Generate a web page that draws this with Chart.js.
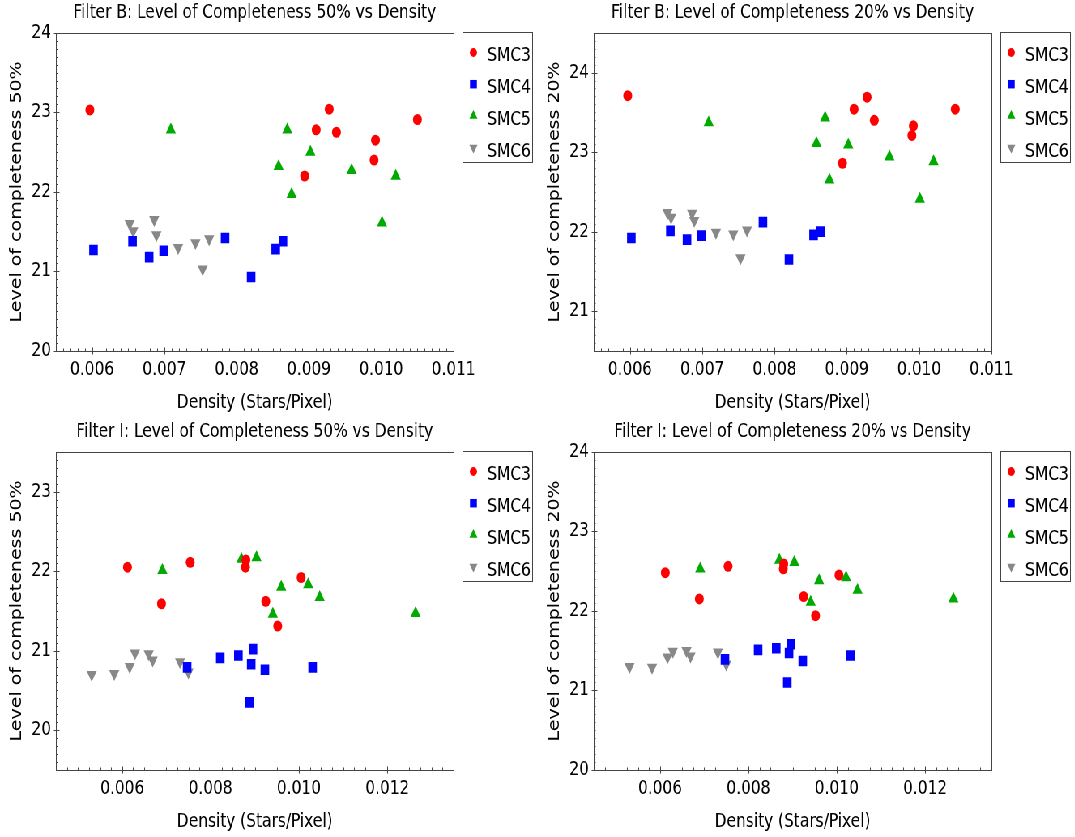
<!DOCTYPE html>
<html>
<head>
<meta charset="utf-8">
<script src="https://cdn.jsdelivr.net/npm/chart.js@4.4.1/dist/chart.umd.min.js"></script>
<style>
html, body { margin: 0; padding: 0; background: #fff; overflow: hidden; }
#wrap { position: absolute; left: 0; top: 0; width: 1328px; height: 837px;
        transform: scaleX(0.81); transform-origin: 0 0; }
.panel { position: absolute; }
</style>
</head>
<body>
<div id="wrap">
  <canvas class="panel" id="c1" width="664" height="418" style="left:0;top:0"></canvas>
  <canvas class="panel" id="c2" width="664" height="418" style="left:664px;top:0"></canvas>
  <canvas class="panel" id="c3" width="664" height="418" style="left:0;top:419px"></canvas>
  <canvas class="panel" id="c4" width="664" height="418" style="left:664px;top:419px"></canvas>
</div>
<script>
// series names
const seriesNames = ['SMC3', 'SMC4', 'SMC5', 'SMC6']

// Filter B densities (stars/pixel)
const densB_SMC3 = [0.00597, 0.00928, 0.00910, 0.00938, 0.01050, 0.00992, 0.00990, 0.00894]
const densB_SMC4 = [0.00602, 0.00656, 0.00679, 0.00699, 0.00784, 0.00820, 0.00854, 0.00864]
const densB_SMC5 = [0.00709, 0.00870, 0.00858, 0.00902, 0.00876, 0.00959, 0.01020, 0.01001]
const densB_SMC6 = [0.00652, 0.00657, 0.00686, 0.00689, 0.00719, 0.00743, 0.00762, 0.00753]

// Filter B, completeness 50%
const B50_SMC3 = [23.03, 23.04, 22.78, 22.75, 22.91, 22.65, 22.40, 22.20]
const B50_SMC4 = [21.27, 21.38, 21.18, 21.26, 21.42, 20.93, 21.28, 21.38]
const B50_SMC5 = [22.78, 22.78, 22.32, 22.50, 21.97, 22.27, 22.20, 21.61]
const B50_SMC6 = [21.60, 21.51, 21.65, 21.46, 21.30, 21.36, 21.41, 21.03]

// Filter B, completeness 20%
const B20_SMC3 = [23.71, 23.69, 23.54, 23.40, 23.54, 23.33, 23.21, 22.86]
const B20_SMC4 = [21.92, 22.01, 21.90, 21.95, 22.12, 21.65, 21.96, 22.00]
const B20_SMC5 = [23.37, 23.43, 23.11, 23.09, 22.65, 22.94, 22.88, 22.41]
const B20_SMC6 = [22.24, 22.18, 22.23, 22.14, 21.99, 21.97, 22.02, 21.67]

// Filter I densities
const densI_SMC3 = [0.00612, 0.00754, 0.00689, 0.00880, 0.00879, 0.01005, 0.00925, 0.00952]
const densI_SMC4 = [0.00747, 0.00822, 0.00863, 0.00896, 0.00892, 0.00923, 0.01031, 0.00888]
const densI_SMC5 = [0.00691, 0.00870, 0.00904, 0.00960, 0.01021, 0.01047, 0.00941, 0.01264]
const densI_SMC6 = [0.00531, 0.00582, 0.00617, 0.00629, 0.00660, 0.00669, 0.00731, 0.00750]

// Filter I, completeness 50%
const I50_SMC3 = [22.05, 22.11, 21.59, 22.14, 22.05, 21.92, 21.62, 21.31]
const I50_SMC4 = [20.79, 20.91, 20.94, 21.02, 20.83, 20.76, 20.79, 20.35]
const I50_SMC5 = [22.01, 22.15, 22.17, 21.80, 21.83, 21.67, 21.46, 21.47]
const I50_SMC6 = [20.70, 20.71, 20.80, 20.97, 20.96, 20.88, 20.86, 20.73]

// Filter I, completeness 20%
const I20_SMC3 = [22.48, 22.56, 22.15, 22.59, 22.53, 22.45, 22.18, 21.94]
const I20_SMC4 = [21.39, 21.51, 21.53, 21.58, 21.47, 21.37, 21.44, 21.10]
const I20_SMC5 = [22.53, 22.64, 22.61, 22.38, 22.42, 22.26, 22.11, 22.15]
const I20_SMC6 = [21.30, 21.29, 21.42, 21.49, 21.50, 21.43, 21.48, 21.33]

// tick labels
const xTicksB = [0.006, 0.007, 0.008, 0.009, 0.010, 0.011]
const xTicksI = [0.006, 0.008, 0.010, 0.012]
const yTicks1 = [20, 21, 22, 23, 24]
const yTicks2 = [21, 22, 23, 24]
const yTicks3 = [20, 21, 22, 23]
const yTicks4 = [20, 21, 22, 23, 24]

Chart.defaults.font.family = 'DejaVu Sans'
Chart.defaults.font.size = 19
Chart.defaults.color = '#000'

const styles = [
    { color: '#ff0000', pointStyle: 'circle', radius: 5.5, rotation: 0 },
    { color: '#0000ff', pointStyle: 'rect', radius: 7.5, rotation: 0 },
    { color: '#00aa00', pointStyle: 'triangle', radius: 7.3, rotation: 0 },
    { color: '#888888', pointStyle: 'triangle', radius: 7.3, rotation: 180 },
]

function makeSets(xs, ys) {
    return seriesNames.map(function (name, i) {
        return {
            label: name,
            data: xs[i].map(function (v, j) { return { x: v, y: ys[i][j] } }),
            pointStyle: styles[i].pointStyle,
            pointRotation: styles[i].rotation,
            pointRadius: styles[i].radius,
            pointHoverRadius: styles[i].radius,
            backgroundColor: styles[i].color,
            borderColor: styles[i].color,
            borderWidth: 0,
        }
    })
}

function drawMarker(ctx, st, x, y, r) {
    ctx.beginPath()
    if (st.pointStyle === 'circle') {
        ctx.arc(x, y, r, 0, Math.PI * 2)
    } else if (st.pointStyle === 'rect') {
        const s = r * Math.SQRT1_2
        ctx.rect(x - s, y - s, 2 * s, 2 * s)
    } else {
        const d = st.rotation ? -1 : 1
        ctx.moveTo(x, y - d * r)
        ctx.lineTo(x + r * 0.866, y + d * r / 2)
        ctx.lineTo(x - r * 0.866, y + d * r / 2)
        ctx.closePath()
    }
    ctx.fillStyle = st.color
    ctx.fill()
}

// frame, inward ticks and boxed legend
const decor = {
    id: 'decor',
    afterDraw(chart, args, opts) {
        const ctx = chart.ctx
        const a = chart.chartArea
        const x = chart.scales.x, y = chart.scales.y
        const L = Math.round(a.left) + 0.5, R = Math.round(a.right) + 0.5
        const T = Math.round(a.top) + 0.5, B = Math.round(a.bottom) + 0.5
        ctx.save()
        ctx.strokeStyle = '#444'
        ctx.lineWidth = 1
        ctx.beginPath()
        // minor ticks
        for (let n = Math.ceil(x.min / opts.xMinor - 1e-6); n * opts.xMinor <= x.max + 1e-9; n++) {
            const px = Math.round(x.getPixelForValue(n * opts.xMinor)) + 0.5
            ctx.moveTo(px, B); ctx.lineTo(px, B - 3)
        }
        for (let n = Math.ceil(y.min / opts.yMinor - 1e-6); n * opts.yMinor <= y.max + 1e-9; n++) {
            const py = Math.round(y.getPixelForValue(n * opts.yMinor)) + 0.5
            ctx.moveTo(L, py); ctx.lineTo(L + 2, py)
        }
        // major ticks
        x.ticks.forEach(function (t) {
            const px = Math.round(x.getPixelForValue(t.value)) + 0.5
            ctx.moveTo(px, B + 3); ctx.lineTo(px, B - 4)
        })
        y.ticks.forEach(function (t) {
            const py = Math.round(y.getPixelForValue(t.value)) + 0.5
            ctx.moveTo(L - 3, py); ctx.lineTo(L + 4, py)
        })
        ctx.stroke()
        ctx.strokeRect(L, T, R - L, B - T)

        // legend
        const lx = Math.round(a.right + 10.5) + 0.5, ly = T - 1
        ctx.strokeRect(lx, ly, 86, 130)
        ctx.font = '19px "DejaVu Sans"'
        ctx.textBaseline = 'middle'
        ctx.fillStyle = '#000'
        seriesNames.forEach(function (name, i) {
            const cy = ly + 24 + i * 31.7
            drawMarker(ctx, styles[i], lx + 13, cy - 4, styles[i].radius * 0.8)
            ctx.fillStyle = '#000'
            ctx.fillText(name, lx + 30, cy)
        })
        ctx.restore()
    }
}

function makeChart(id, title, ytitle, sets, xr, yr, xTicks, yTicks, xMinor) {
    new Chart(document.getElementById(id).getContext('2d'), {
        type: 'scatter',
        data: { datasets: sets },
        options: {
            responsive: false,
            animation: false,
            layout: { padding: { left: 0, right: 104, top: 0, bottom: 0 } },
            plugins: {
                legend: { display: false },
                tooltip: { enabled: false },
                title: {
                    display: true, text: title, fullSize: false,
                    padding: { top: 2, bottom: 8 },
                    font: { size: 19, weight: 'normal' }, color: '#000'
                },
                decor: { xMinor: xMinor, yMinor: 0.1 }
            },
            scales: {
                x: {
                    type: 'linear', min: xr[0], max: xr[1],
                    grid: { display: false, drawTicks: false },
                    border: { display: false },
                    afterBuildTicks: function (s) { s.ticks = xTicks.map(function (v) { return { value: v } }) },
                    afterFit: function (s) { s.height = 67 },
                    ticks: {
                        padding: 8, maxRotation: 0, autoSkip: false,
                        callback: function (v) { return v.toFixed(3) }
                    },
                    title: { display: true, text: 'Density (Stars/Pixel)', padding: { top: 0, bottom: 4 } }
                },
                y: {
                    type: 'linear', min: yr[0], max: yr[1],
                    grid: { display: false, drawTicks: false },
                    border: { display: false },
                    afterBuildTicks: function (s) { s.ticks = yTicks.map(function (v) { return { value: v } }) },
                    afterFit: function (s) { s.width = 69 },
                    ticks: { padding: 6, autoSkip: false, callback: function (v) { return String(v) } },
                    title: { display: true, text: ytitle, padding: { top: 10, bottom: 0 } }
                }
            }
        },
        plugins: [decor]
    })
}

makeChart('c1', 'Filter B: Level of Completeness 50% vs Density', 'Level of completeness 50%',
    makeSets([densB_SMC3, densB_SMC4, densB_SMC5, densB_SMC6], [B50_SMC3, B50_SMC4, B50_SMC5, B50_SMC6]),
    [0.0055, 0.011], [20, 24], xTicksB, yTicks1, 0.0001)

makeChart('c2', 'Filter B: Level of Completeness 20% vs Density', 'Level of completeness 20%',
    makeSets([densB_SMC3, densB_SMC4, densB_SMC5, densB_SMC6], [B20_SMC3, B20_SMC4, B20_SMC5, B20_SMC6]),
    [0.0055, 0.011], [20.5, 24.5], xTicksB, yTicks2, 0.0001)

makeChart('c3', 'Filter I: Level of Completeness 50% vs Density', 'Level of completeness 50%',
    makeSets([densI_SMC3, densI_SMC4, densI_SMC5, densI_SMC6], [I50_SMC3, I50_SMC4, I50_SMC5, I50_SMC6]),
    [0.0045, 0.0135], [19.5, 23.5], xTicksI, yTicks3, 0.00025)

makeChart('c4', 'Filter I: Level of Completeness 20% vs Density', 'Level of completeness 20%',
    makeSets([densI_SMC3, densI_SMC4, densI_SMC5, densI_SMC6], [I20_SMC3, I20_SMC4, I20_SMC5, I20_SMC6]),
    [0.0045, 0.0135], [20, 24], xTicksI, yTicks4, 0.00025)
</script>
</body>
</html>
